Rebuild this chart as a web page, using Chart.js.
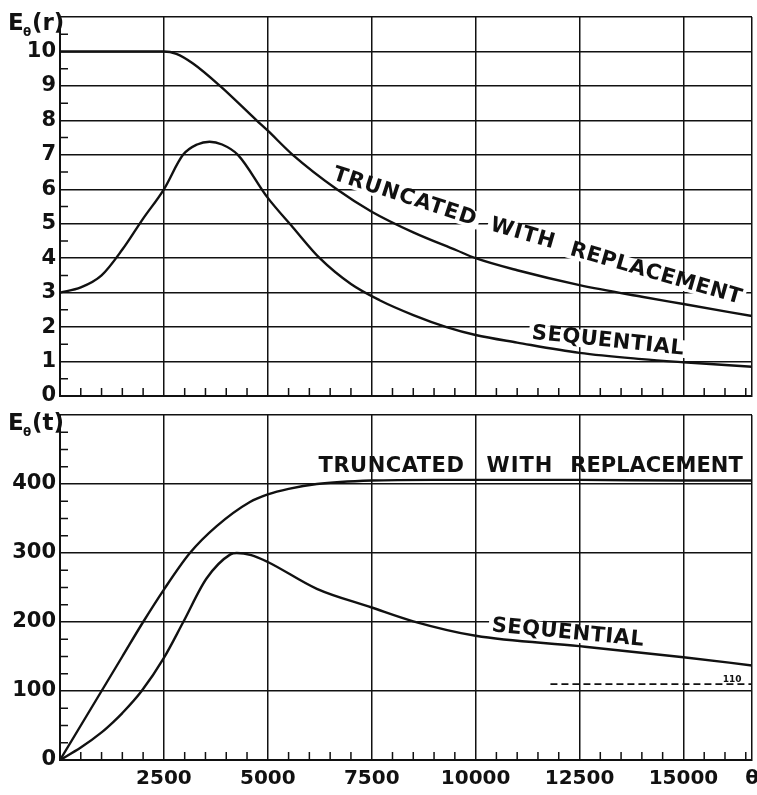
<!DOCTYPE html>
<html>
<head>
<meta charset="utf-8">
<script src="https://cdn.jsdelivr.net/npm/chart.js@4.4.0/dist/chart.umd.min.js"></script>
<style>
  body { margin: 0; background: #fff; }
  #wrap { position: relative; width: 757px; height: 795px; }
  #topBox { position: absolute; left: 0; top: 0; width: 757px; height: 410px; }
  #botBox { position: absolute; left: 0; top: 410px; width: 757px; height: 385px; }
</style>
</head>
<body>
<div id="wrap">
  <div id="topBox"><canvas id="rChart"></canvas></div>
  <div id="botBox"><canvas id="tChart"></canvas></div>
</div>
<script>
// E_theta(r), upper panel
var rTruncTheta = [0, 1000, 2000, 2500, 2800, 3200, 3850, 4730, 5000, 5600, 6660, 7500, 8500, 9540, 10000, 11000, 12500, 14000, 15000, 16650];
var rTruncVal   = [10, 10, 10, 10, 9.93, 9.65, 9.0, 8.0, 7.7, 7.0, 6.0, 5.35, 4.75, 4.23, 4.0, 3.65, 3.22, 2.88, 2.67, 2.32];
var rSeqTheta = [0, 500, 1000, 1500, 2000, 2500, 2960, 3300, 3600, 3900, 4280, 5000, 5600, 6250, 7000, 7690, 8500, 9300, 10000, 11000, 12500, 14000, 15000, 16650];
var rSeqVal   = [3.0, 3.15, 3.5, 4.25, 5.15, 6.0, 7.0, 7.3, 7.38, 7.3, 7.0, 5.75, 4.9, 4.0, 3.25, 2.78, 2.35, 2.0, 1.77, 1.55, 1.25, 1.07, 0.98, 0.85];

// E_theta(t), lower panel
var tTruncTheta = [0, 500, 1000, 1500, 2000, 2500, 3125, 3770, 4570, 5000, 5500, 6180, 7500, 9000, 10000, 12500, 15000, 16650];
var tTruncVal   = [0, 50, 100, 150, 200, 247, 300, 339, 374, 385, 393, 400, 405, 406, 406, 406, 405, 405];
var tSeqTheta = [0, 500, 1000, 1280, 1500, 1964, 2500, 2966, 3525, 4100, 4250, 4600, 5000, 6180, 7500, 8500, 10000, 12500, 15000, 16650];
var tSeqVal   = [0, 18, 40, 55, 68, 100, 148, 200, 263, 298, 300, 297, 287, 248, 221, 201, 180, 165, 149, 137];
var refTheta = [11800, 16650];
var refVal   = [110, 110];

var thetaMax = 16650;
var thetaTicks = [0, 2500, 5000, 7500, 10000, 12500, 15000];
var rTicks = [0, 11];
var tTicks = [0, 500];

var ink = '#111';
var fontFam = '"DejaVu Sans", sans-serif';

function pts(xs, ys) {
  return xs.map(function(x, i) { return {x: x, y: ys[i]}; });
}

function curve(xs, ys) {
  return {
    data: pts(xs, ys),
    borderColor: ink,
    borderWidth: 2.4,
    pointRadius: 0,
    fill: false,
    cubicInterpolationMode: 'monotone'
  };
}

// minor ticks, notes and the axis title
var decor = {
  id: 'decor',
  beforeDatasetsDraw: function(chart, args, opts) {
    var ctx = chart.ctx;
    (opts.notes || []).forEach(function(n) {
      var px = chart.scales.x.getPixelForValue(n.at[0]);
      var py = chart.scales.y.getPixelForValue(n.at[1]);
      ctx.save();
      ctx.translate(px, py);
      ctx.rotate(n.angle * Math.PI / 180);
      ctx.font = 'bold ' + n.size + 'px ' + fontFam;
      ctx.letterSpacing = (n.spacing || 0) + 'px';
      var w = ctx.measureText(n.text).width;
      if (n.clear) {
        ctx.fillStyle = '#fff';
        ctx.fillRect(-w / 2 - 3, -n.size * 0.42, w + 6, n.size * 0.84);
      }
      ctx.fillStyle = ink;
      ctx.textAlign = 'center';
      ctx.textBaseline = 'middle';
      ctx.fillText(n.text, 0, 0);
      ctx.restore();
    });
  },
  afterDraw: function(chart, args, opts) {
    var ctx = chart.ctx, ca = chart.chartArea;
    var xs = chart.scales.x, ys = chart.scales.y;
    ctx.save();
    ctx.strokeStyle = ink;
    ctx.lineWidth = 1.5;
    ctx.beginPath();
    for (var v = opts.xMinor; v < xs.max; v += opts.xMinor) {
      if (v % 2500 === 0) continue;
      var px = xs.getPixelForValue(v);
      ctx.moveTo(px, ca.bottom);
      ctx.lineTo(px, ca.bottom - 8);
    }
    for (var w = opts.yMinor; w < ys.max; w += opts.yMinor) {
      if (Math.abs(w % opts.yMajor) < 1e-6) continue;
      var py = ys.getPixelForValue(w);
      ctx.moveTo(ca.left, py);
      ctx.lineTo(ca.left + 8, py);
    }
    ctx.stroke();

    // E_theta(...) title
    var bx = 8, by = ca.top + opts.titleDy;
    ctx.fillStyle = ink;
    ctx.textBaseline = 'alphabetic';
    ctx.textAlign = 'left';
    ctx.font = 'bold 23px ' + fontFam;
    ctx.fillText('E', bx, by);
    ctx.font = 'bold 12px ' + fontFam;
    ctx.fillText('θ', bx + 15, by + 6);
    ctx.font = 'bold 23px ' + fontFam;
    ctx.fillText('(' + opts.sym + ')', bx + 24, by);
    ctx.restore();
  }
};

function xScale(showLabels) {
  return {
    type: 'linear',
    min: 0,
    max: thetaMax,
    afterBuildTicks: function(s) {
      s.ticks = thetaTicks.concat([thetaMax]).map(function(v) { return {value: v}; });
    },
    ticks: {
      display: showLabels,
      padding: 7,
      color: ink,
      font: {family: fontFam, size: 20, weight: 'bold'},
      maxRotation: 0,
      autoSkip: false,
      callback: function(v) {
        if (v === 0) return '';
        if (v === thetaMax) return 'θ';
        return String(v);
      }
    },
    grid: {color: ink, lineWidth: 1.5, drawTicks: false},
    border: {color: ink, width: 2},
    afterFit: function(s) {
      s.height = showLabels ? 35 : 0;
      s.paddingLeft = 0;
      s.paddingRight = 0;
    }
  };
}

function yScale(range, step) {
  return {
    type: 'linear',
    min: range[0],
    max: range[1],
    ticks: {
      stepSize: step,
      padding: 4,
      color: ink,
      font: {family: fontFam, size: 21, weight: 'bold'},
      callback: function(v) { return v === range[1] ? '' : String(v); }
    },
    grid: {color: ink, lineWidth: 1.5, drawTicks: false},
    border: {color: ink, width: 2},
    afterFit: function(s) {
      s.width = 60;
      s.paddingTop = 0;
      s.paddingBottom = 0;
    }
  };
}

new Chart(document.getElementById('rChart').getContext('2d'), {
  type: 'line',
  data: {
    datasets: [curve(rTruncTheta, rTruncVal), curve(rSeqTheta, rSeqVal)]
  },
  options: {
    responsive: true,
    maintainAspectRatio: false,
    animation: false,
    layout: {padding: {top: 17, right: 5, bottom: 14, left: 0}},
    scales: {x: xScale(false), y: yScale(rTicks, 1)},
    plugins: {
      legend: {display: false},
      tooltip: {enabled: false},
      decor: {
        xMinor: 500, yMinor: 0.5, yMajor: 1, sym: 'r', titleDy: 13,
        notes: [
          {text: 'TRUNCATED', at: [8300, 5.77], angle: 18, size: 21, spacing: 1, clear: true},
          {text: 'WITH', at: [11140, 4.70], angle: 16, size: 21, spacing: 1, clear: true},
          {text: 'REPLACEMENT', at: [14340, 3.54], angle: 16, size: 21, spacing: 0.5, clear: true},
          {text: 'SEQUENTIAL', at: [13186, 1.59], angle: 6, size: 21, spacing: 0.5, clear: true}
        ]
      }
    }
  },
  plugins: [decor]
});

var tSets = [curve(tTruncTheta, tTruncVal), curve(tSeqTheta, tSeqVal), curve(refTheta, refVal)];
tSets[2].borderDash = [7, 4];
tSets[2].borderWidth = 1.8;

new Chart(document.getElementById('tChart').getContext('2d'), {
  type: 'line',
  data: {datasets: tSets},
  options: {
    responsive: true,
    maintainAspectRatio: false,
    animation: false,
    layout: {padding: {top: 5, right: 5, bottom: 0, left: 0}},
    scales: {x: xScale(true), y: yScale(tTicks, 100)},
    plugins: {
      legend: {display: false},
      tooltip: {enabled: false},
      decor: {
        xMinor: 500, yMinor: 25, yMajor: 100, sym: 't', titleDy: 15,
        notes: [
          {text: 'TRUNCATED', at: [7976, 425], angle: 0, size: 21, spacing: 0.5},
          {text: 'WITH', at: [11068, 425], angle: 0, size: 21, spacing: 1},
          {text: 'REPLACEMENT', at: [14353, 425], angle: 0, size: 21, spacing: 0},
          {text: 'SEQUENTIAL', at: [12220, 184], angle: 5.5, size: 21, spacing: 0.5, clear: true},
          {text: '110', at: [16170, 117], angle: 0, size: 9, spacing: 0}
        ]
      }
    }
  },
  plugins: [decor]
});
</script>
</body>
</html>
